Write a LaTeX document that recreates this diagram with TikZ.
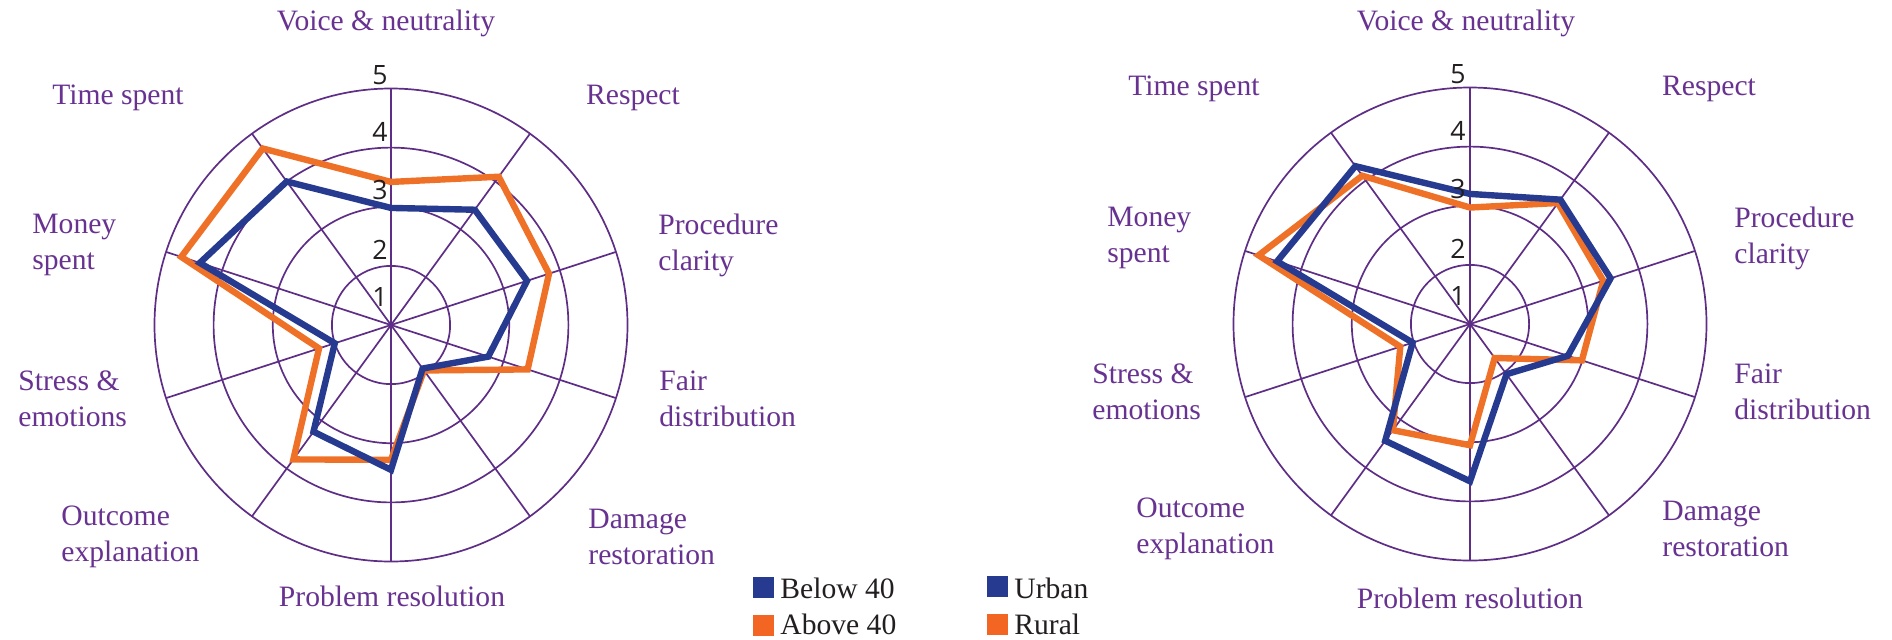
\documentclass[tikz,border=0pt]{standalone}
\usepackage{fontspec}
\setmainfont{Liberation Serif}
\newfontfamily\numfont{Open Sans}
\usepackage{xcolor}
\usetikzlibrary{positioning}
\definecolor{gridpurple}{RGB}{94,46,134}
\definecolor{textpurple}{RGB}{104,50,145}
\definecolor{lineblue}{RGB}{38,58,143}
\definecolor{lineorange}{RGB}{238,113,39}
\definecolor{boxorange}{RGB}{242,101,34}
\definecolor{textgray}{RGB}{35,31,32}

\begin{document}
\begin{tikzpicture}[x=0.5pt, y=-0.5pt,
    grid/.style={gridpurple, line width=0.85pt},
    blueline/.style={lineblue, line width=3.2pt, line join=miter},
    orangeline/.style={lineorange, line width=3.2pt, line join=miter},
    cat/.style={textpurple, font=\fontsize{14.8}{18}\selectfont, inner sep=0pt, align=left},
    num/.style={textgray, font=\numfont\fontsize{13.3}{16}\selectfont, inner sep=0pt, anchor=south east},
    keybox/.style={minimum size=10.5pt, inner sep=0pt},
    key/.style={textgray, font=\fontsize{14.8}{18}\selectfont, inner sep=0pt, anchor=base west}]
\useasboundingbox (0,0) rectangle (1892,639);

\begin{scope}[shift={(391,325)}]
    \foreach \r in {59.1,118.2,177.4,236.5} \draw[grid] (0,0) circle (\r);
    \foreach \a in {0,...,9} \draw[grid] (0,0) -- (-90+36*\a:236.5);
    \foreach \v [count=\i from 0] in {3.42,4.10,3.81,3.43,1.95,3.28,3.81,2.28,4.73,4.69}
        \coordinate (lo\i) at (-90+36*\i:{(\v-1)*59.125});
    \foreach \v [count=\i from 0] in {2.98,3.41,3.42,2.73,1.91,3.45,3.23,2.00,4.40,4.00}
        \coordinate (lb\i) at (-90+36*\i:{(\v-1)*59.125});
    \draw[orangeline] (lo0) \foreach \i in {1,...,9} {-- (lo\i)} -- cycle;
    \draw[blueline] (lb0) \foreach \i in {1,...,9} {-- (lb\i)} -- cycle;
\end{scope}

\begin{scope}[shift={(1470,324)}]
    \foreach \r in {59.1,118.2,177.4,236.5} \draw[grid] (0,0) circle (\r);
    \foreach \a in {0,...,9} \draw[grid] (0,0) -- (-90+36*\a:236.5);
    \foreach \v [count=\i from 0] in {2.97,3.53,3.37,2.99,1.71,3.05,3.22,2.24,4.76,4.10}
        \coordinate (ro\i) at (-90+36*\i:{(\v-1)*59.125});
    \foreach \v [count=\i from 0] in {3.20,3.60,3.50,2.74,2.05,3.66,3.44,2.02,4.43,4.30}
        \coordinate (rb\i) at (-90+36*\i:{(\v-1)*59.125});
    \draw[orangeline] (ro0) \foreach \i in {1,...,9} {-- (ro\i)} -- cycle;
    \draw[blueline] (rb0) \foreach \i in {1,...,9} {-- (rb\i)} -- cycle;
\end{scope}

\node[num] (l5) at (388,85) {5};
\node[num] (l4) at (388,142) {4};
\node[num] (l3) at (388,200) {3};
\node[num] (l2) at (388,260) {2};
\node[num] (l1) at (388,307) {1};
\node[num] (r5) at (1466,84) {5};
\node[num] (r4) at (1466,141) {4};
\node[num] (r3) at (1466,199) {3};
\node[num] (r2) at (1466,259) {2};
\node[num] (r1) at (1466,306) {1};

\node[cat] (voicel) at (386,23) {Voice \& neutrality};
\node[cat] (respectl) at (633,98) {Respect};
\node[cat, anchor=west] (procl) at (658,245) {Procedure\\clarity};
\node[cat, anchor=west] (fairl) at (659,399) {Fair\\distribution};
\node[cat, anchor=west] (damagel) at (588,537) {Damage\\restoration};
\node[cat] (probleml) at (392,596) {Problem resolution};
\node[cat, anchor=west] (outcomel) at (61,537) {Outcome\\explanation};
\node[cat, anchor=west] (stressl) at (18,399) {Stress \&\\emotions};
\node[cat, anchor=west] (moneyl) at (32,245) {Money\\spent};
\node[cat] (timel) at (118,98) {Time spent};

\node[cat] (voicer) at (1466,23) {Voice \& neutrality};
\node[cat] (respectr) at (1709,89) {Respect};
\node[cat, anchor=west] (procr) at (1734,238) {Procedure\\clarity};
\node[cat, anchor=west] (fairr) at (1734,392) {Fair\\distribution};
\node[cat, anchor=west] (damager) at (1662,529) {Damage\\restoration};
\node[cat] (problemr) at (1470,598) {Problem resolution};
\node[cat, anchor=west] (outcomer) at (1136,529) {Outcome\\explanation};
\node[cat, anchor=west] (stressr) at (1092,392) {Stress \&\\emotions};
\node[cat, anchor=west] (moneyr) at (1107,238) {Money\\spent};
\node[cat] (timer) at (1194,89) {Time spent};

\node[keybox, fill=lineblue] (belowbox) at (763.5,587.5) {};
\node[key] (below) at (780,598) {Below 40};
\node[keybox, fill=boxorange] (abovebox) at (763.5,625.5) {};
\node[key] (above) at (780,634) {Above 40};
\node[keybox, fill=lineblue] (urbanbox) at (997.5,586) {};
\node[key] (urban) at (1014,598) {Urban};
\node[keybox, fill=boxorange] (ruralbox) at (997.5,624.5) {};
\node[key] (rural) at (1014,634) {Rural};
\end{tikzpicture}
\end{document}
